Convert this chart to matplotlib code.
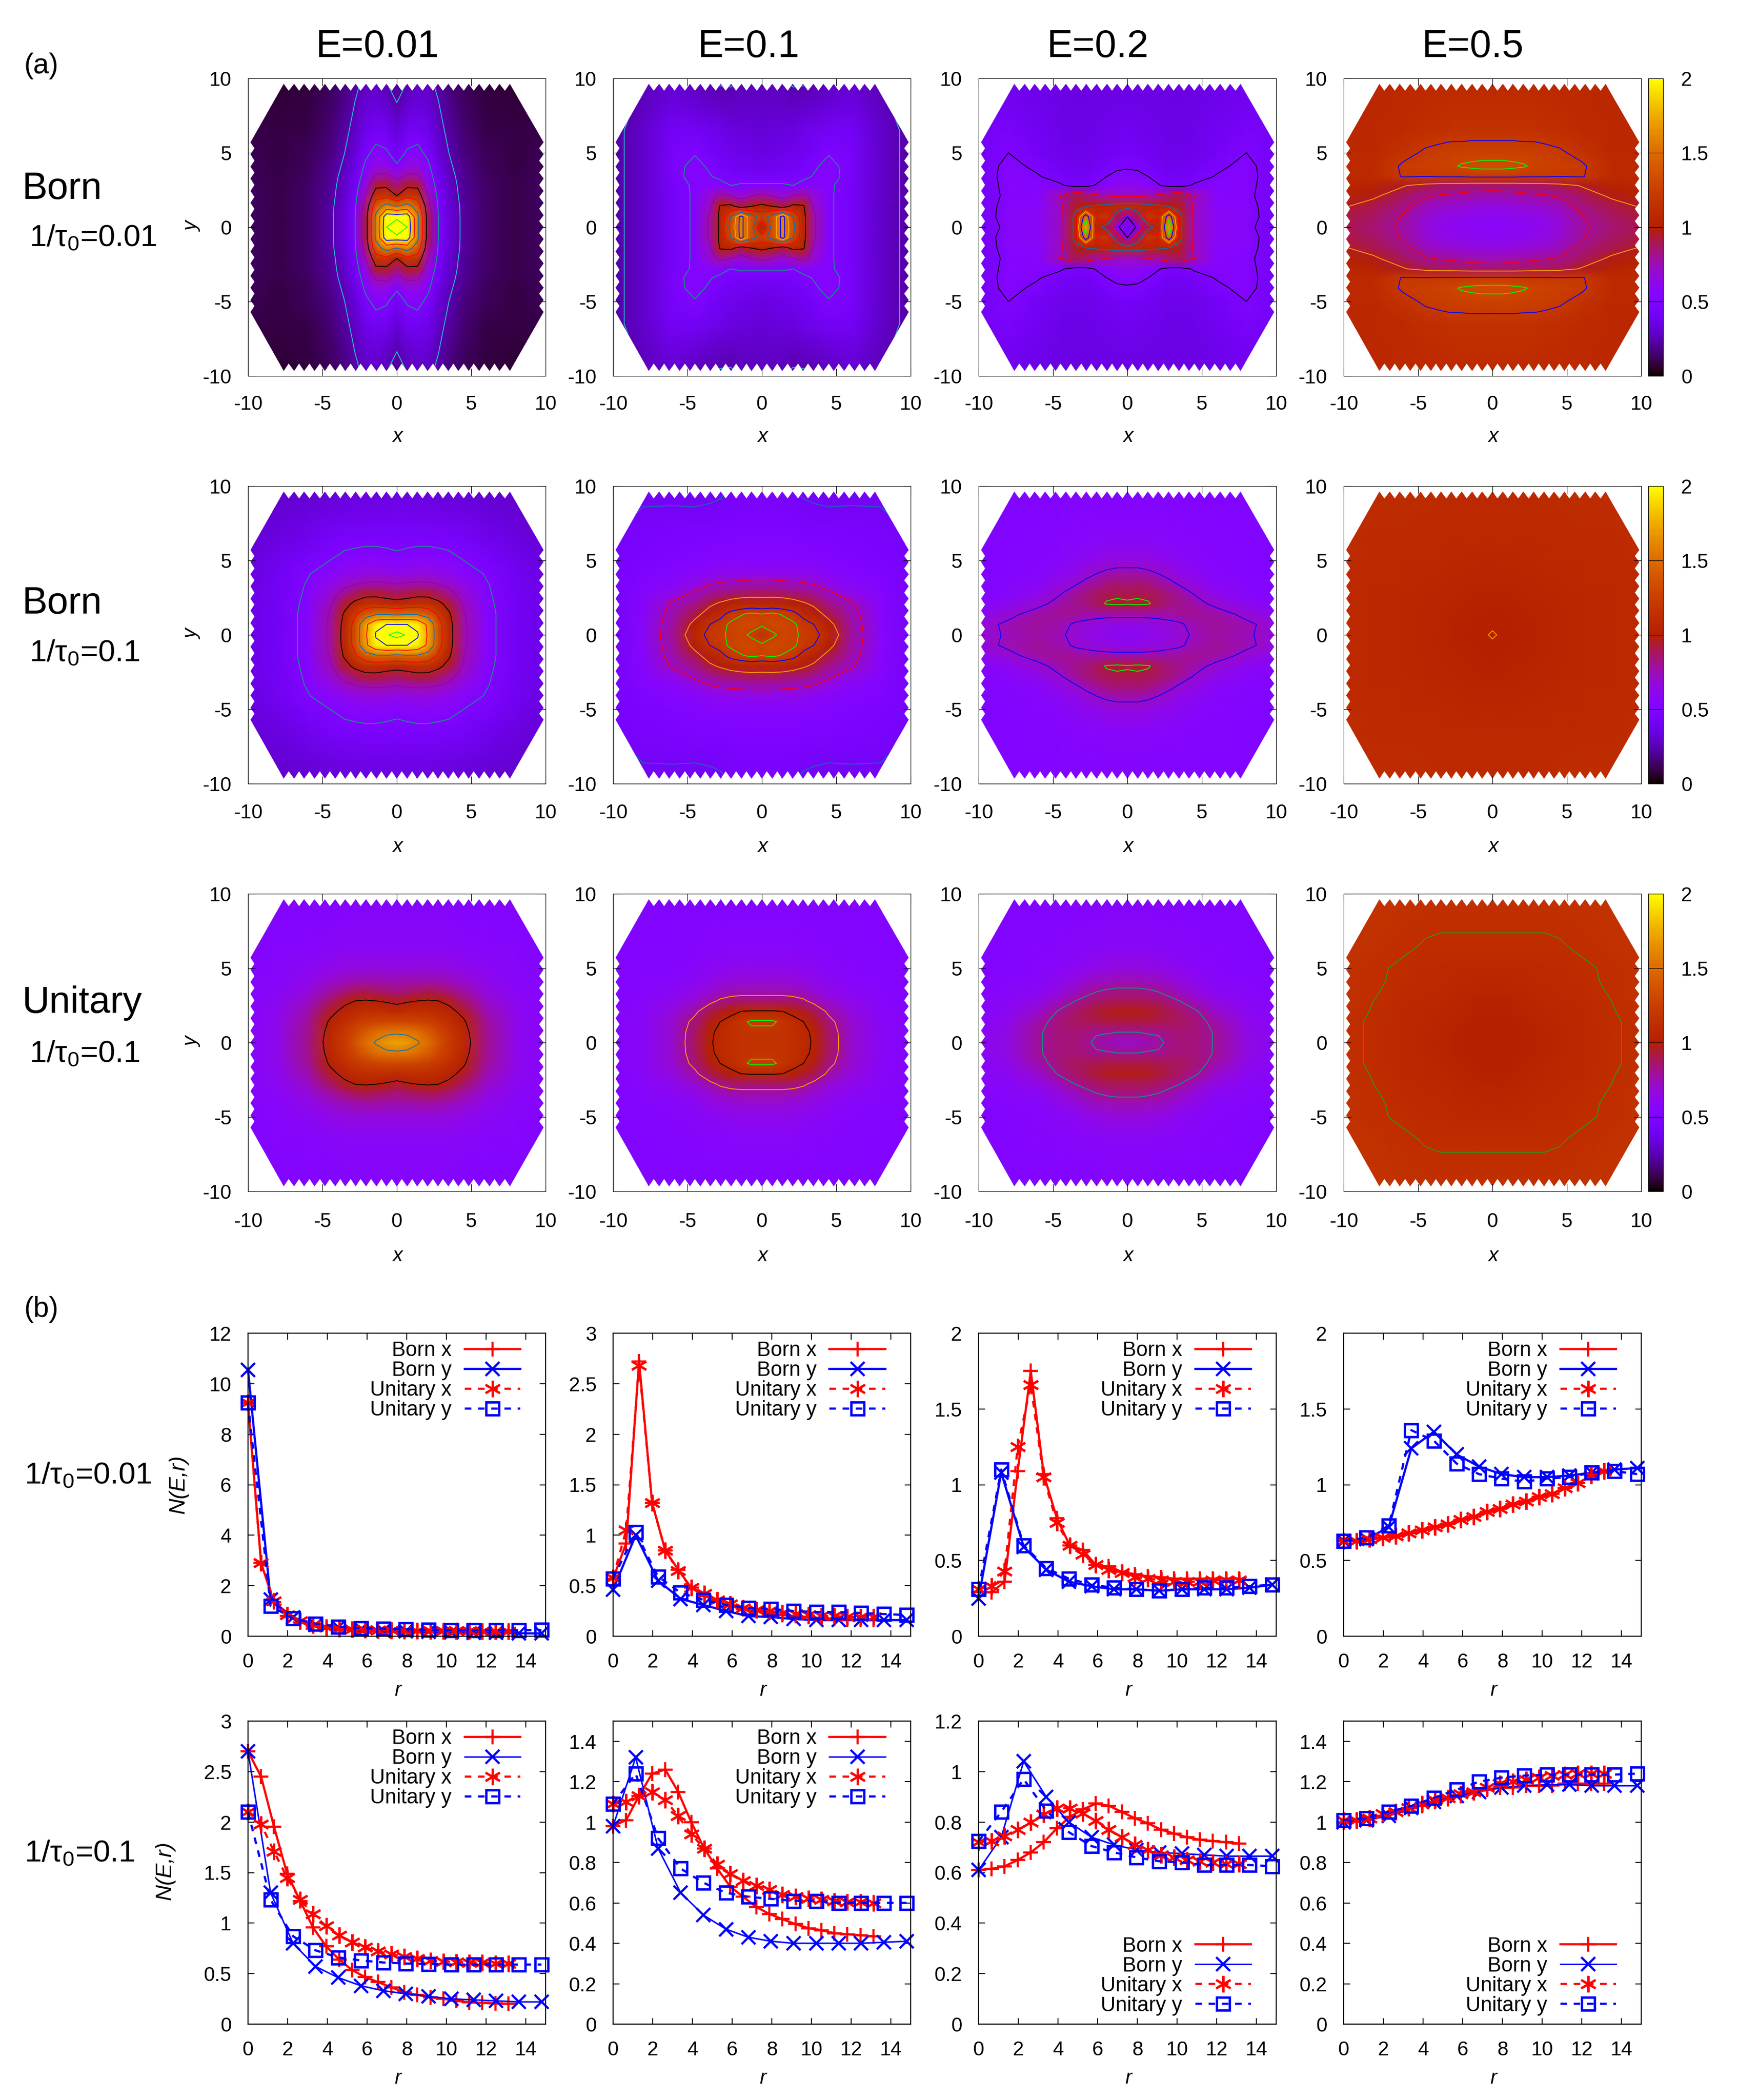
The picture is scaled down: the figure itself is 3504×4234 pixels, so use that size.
import numpy as np
import matplotlib
matplotlib.use("Agg")
import matplotlib.pyplot as plt
from matplotlib.cm import ScalarMappable
from matplotlib.colors import Normalize
from matplotlib.patches import PathPatch
from matplotlib.path import Path
from matplotlib.ticker import FormatStrFormatter

plt.rcParams['font.family'] = ['Liberation Sans', 'DejaVu Sans']
plt.rcParams['mathtext.fontset'] = 'custom'
plt.rcParams['mathtext.rm'] = 'Liberation Sans'
plt.rcParams['mathtext.it'] = 'Liberation Sans:italic'
plt.rcParams['axes.unicode_minus'] = False

W, H = 3504, 4234

# ---- N(x,y) maps, one quadrant each: rows are map_y, columns are map_x ----
map_x = [0, 0.7, 1.4, 2.1, 2.8, 3.5, 4.5, 6, 8, 10]
map_y = [0, 0.7, 1.4, 2.1, 2.8, 3.4, 4.1, 5, 6.5, 10]

born001_e001 = [
    [2.35, 2.20, 1.55, 0.90, 0.50, 0.34, 0.22, 0.14, 0.10, 0.13],
    [2.15, 2.15, 1.55, 0.90, 0.50, 0.34, 0.22, 0.14, 0.10, 0.13],
    [1.50, 1.60, 1.40, 0.85, 0.48, 0.33, 0.22, 0.14, 0.10, 0.13],
    [1.00, 1.20, 1.15, 0.75, 0.45, 0.32, 0.21, 0.14, 0.10, 0.13],
    [0.85, 0.95, 0.95, 0.65, 0.42, 0.30, 0.21, 0.14, 0.10, 0.13],
    [0.70, 0.80, 0.78, 0.58, 0.40, 0.29, 0.20, 0.13, 0.10, 0.12],
    [0.52, 0.64, 0.65, 0.53, 0.36, 0.27, 0.19, 0.12, 0.09, 0.12],
    [0.42, 0.52, 0.55, 0.46, 0.33, 0.25, 0.17, 0.12, 0.09, 0.11],
    [0.33, 0.40, 0.42, 0.38, 0.29, 0.22, 0.15, 0.10, 0.09, 0.10],
    [0.18, 0.24, 0.28, 0.27, 0.22, 0.16, 0.11, 0.08, 0.07, 0.08],
]
born001_e01 = [
    [1.00, 1.35, 1.60, 1.35, 1.05, 0.78, 0.52, 0.43, 0.30, 0.22],
    [1.25, 1.35, 1.60, 1.30, 1.05, 0.78, 0.52, 0.43, 0.30, 0.22],
    [1.05, 1.00, 0.92, 1.05, 1.02, 0.72, 0.52, 0.43, 0.30, 0.22],
    [0.80, 0.75, 0.68, 0.75, 0.80, 0.68, 0.52, 0.43, 0.30, 0.22],
    [0.52, 0.52, 0.52, 0.50, 0.55, 0.55, 0.52, 0.44, 0.30, 0.22],
    [0.43, 0.43, 0.43, 0.45, 0.47, 0.51, 0.55, 0.45, 0.30, 0.22],
    [0.38, 0.39, 0.40, 0.42, 0.44, 0.48, 0.54, 0.45, 0.30, 0.22],
    [0.35, 0.36, 0.37, 0.38, 0.40, 0.43, 0.49, 0.44, 0.30, 0.22],
    [0.32, 0.33, 0.34, 0.35, 0.37, 0.39, 0.42, 0.42, 0.30, 0.22],
    [0.27, 0.26, 0.25, 0.23, 0.23, 0.24, 0.26, 0.30, 0.25, 0.20],
]
born001_e02 = [
    [0.42, 0.52, 0.95, 1.05, 1.70, 1.05, 0.72, 0.58, 0.54, 0.40],
    [0.50, 0.90, 1.20, 1.12, 1.50, 1.05, 0.72, 0.58, 0.56, 0.42],
    [1.10, 1.10, 1.05, 1.02, 1.00, 0.95, 0.72, 0.56, 0.55, 0.42],
    [0.72, 0.72, 0.75, 0.78, 0.85, 0.90, 0.75, 0.54, 0.53, 0.42],
    [0.62, 0.60, 0.56, 0.51, 0.46, 0.45, 0.52, 0.55, 0.54, 0.42],
    [0.55, 0.54, 0.50, 0.45, 0.42, 0.42, 0.44, 0.51, 0.55, 0.42],
    [0.48, 0.47, 0.44, 0.42, 0.39, 0.39, 0.41, 0.47, 0.54, 0.42],
    [0.43, 0.42, 0.40, 0.39, 0.37, 0.37, 0.38, 0.42, 0.50, 0.42],
    [0.40, 0.39, 0.38, 0.37, 0.36, 0.36, 0.37, 0.40, 0.45, 0.42],
    [0.35, 0.35, 0.35, 0.35, 0.35, 0.35, 0.35, 0.36, 0.38, 0.38],
]
born001_e05 = [
    [0.58, 0.58, 0.59, 0.60, 0.61, 0.63, 0.67, 0.78, 0.85, 0.90],
    [0.60, 0.60, 0.61, 0.62, 0.63, 0.65, 0.69, 0.79, 0.87, 0.92],
    [0.66, 0.66, 0.67, 0.68, 0.69, 0.71, 0.74, 0.83, 0.90, 0.96],
    [0.74, 0.75, 0.76, 0.77, 0.78, 0.79, 0.81, 0.88, 0.97, 1.03],
    [0.86, 0.86, 0.86, 0.87, 0.88, 0.88, 0.90, 0.96, 1.03, 1.07],
    [1.22, 1.22, 1.22, 1.21, 1.21, 1.21, 1.20, 1.21, 1.10, 1.08],
    [1.33, 1.33, 1.32, 1.31, 1.28, 1.27, 1.25, 1.22, 1.10, 1.08],
    [1.26, 1.26, 1.26, 1.25, 1.25, 1.24, 1.22, 1.16, 1.09, 1.08],
    [1.15, 1.15, 1.15, 1.15, 1.15, 1.14, 1.13, 1.10, 1.08, 1.07],
    [1.08, 1.08, 1.08, 1.08, 1.08, 1.08, 1.08, 1.08, 1.07, 1.05],
]
born01_e001 = [
    [2.35, 2.22, 2.02, 1.72, 1.35, 1.08, 0.78, 0.54, 0.42, 0.36],
    [2.00, 2.00, 1.95, 1.70, 1.33, 1.07, 0.78, 0.54, 0.42, 0.36],
    [1.45, 1.48, 1.47, 1.40, 1.22, 1.03, 0.76, 0.54, 0.42, 0.36],
    [1.07, 1.10, 1.13, 1.12, 1.05, 0.93, 0.73, 0.53, 0.42, 0.36],
    [0.88, 0.90, 0.93, 0.93, 0.87, 0.80, 0.68, 0.52, 0.41, 0.36],
    [0.75, 0.77, 0.78, 0.77, 0.75, 0.71, 0.63, 0.51, 0.41, 0.35],
    [0.63, 0.65, 0.66, 0.66, 0.64, 0.61, 0.57, 0.49, 0.40, 0.35],
    [0.53, 0.55, 0.57, 0.57, 0.55, 0.54, 0.50, 0.45, 0.38, 0.34],
    [0.46, 0.46, 0.46, 0.46, 0.46, 0.45, 0.43, 0.39, 0.35, 0.32],
    [0.34, 0.33, 0.33, 0.33, 0.32, 0.32, 0.31, 0.30, 0.29, 0.28],
]
born01_e01 = [
    [1.15, 1.22, 1.29, 1.27, 1.23, 1.20, 1.07, 0.80, 0.56, 0.44],
    [1.27, 1.32, 1.30, 1.27, 1.21, 1.15, 1.00, 0.78, 0.56, 0.44],
    [1.25, 1.27, 1.24, 1.20, 1.10, 1.02, 0.90, 0.76, 0.55, 0.44],
    [1.05, 1.06, 1.05, 1.02, 0.97, 0.92, 0.82, 0.72, 0.55, 0.44],
    [0.88, 0.88, 0.87, 0.85, 0.83, 0.80, 0.72, 0.63, 0.53, 0.44],
    [0.75, 0.75, 0.74, 0.73, 0.72, 0.70, 0.64, 0.57, 0.52, 0.44],
    [0.63, 0.63, 0.62, 0.62, 0.61, 0.60, 0.57, 0.53, 0.50, 0.44],
    [0.55, 0.55, 0.55, 0.55, 0.55, 0.54, 0.52, 0.50, 0.48, 0.44],
    [0.50, 0.50, 0.50, 0.50, 0.49, 0.49, 0.49, 0.48, 0.46, 0.43],
    [0.45, 0.45, 0.44, 0.43, 0.41, 0.40, 0.39, 0.40, 0.41, 0.40],
]
born01_e02 = [
    [0.60, 0.60, 0.62, 0.64, 0.66, 0.68, 0.74, 0.78, 0.74, 0.66],
    [0.64, 0.64, 0.65, 0.66, 0.68, 0.70, 0.76, 0.79, 0.75, 0.66],
    [0.76, 0.76, 0.76, 0.77, 0.78, 0.79, 0.80, 0.78, 0.68, 0.60],
    [0.93, 0.94, 0.93, 0.88, 0.84, 0.82, 0.77, 0.68, 0.60, 0.55],
    [0.90, 0.90, 0.89, 0.87, 0.83, 0.79, 0.71, 0.62, 0.56, 0.52],
    [0.85, 0.86, 0.84, 0.80, 0.76, 0.71, 0.65, 0.58, 0.54, 0.52],
    [0.77, 0.77, 0.75, 0.72, 0.68, 0.64, 0.60, 0.55, 0.53, 0.50],
    [0.66, 0.66, 0.65, 0.63, 0.61, 0.59, 0.56, 0.54, 0.52, 0.50],
    [0.57, 0.57, 0.57, 0.56, 0.56, 0.55, 0.54, 0.53, 0.52, 0.50],
    [0.52, 0.52, 0.52, 0.52, 0.52, 0.52, 0.51, 0.50, 0.50, 0.49],
]
born01_e05 = [
    [1.000, 1.010, 1.015, 1.02, 1.03, 1.04, 1.05, 1.07, 1.08, 1.09],
    [1.010, 1.012, 1.018, 1.02, 1.03, 1.04, 1.05, 1.07, 1.08, 1.09],
    [1.015, 1.018, 1.020, 1.03, 1.03, 1.04, 1.05, 1.07, 1.08, 1.09],
    [1.020, 1.020, 1.030, 1.03, 1.04, 1.05, 1.06, 1.07, 1.08, 1.09],
    [1.030, 1.030, 1.030, 1.04, 1.05, 1.05, 1.06, 1.07, 1.08, 1.09],
    [1.040, 1.040, 1.040, 1.05, 1.05, 1.06, 1.07, 1.08, 1.09, 1.10],
    [1.050, 1.050, 1.050, 1.06, 1.06, 1.07, 1.07, 1.08, 1.09, 1.10],
    [1.060, 1.060, 1.060, 1.07, 1.07, 1.08, 1.08, 1.09, 1.10, 1.10],
    [1.080, 1.080, 1.080, 1.08, 1.08, 1.09, 1.09, 1.10, 1.10, 1.11],
    [1.100, 1.100, 1.100, 1.10, 1.10, 1.10, 1.11, 1.11, 1.11, 1.11],
]
unitary_e001 = [
    [1.72, 1.68, 1.60, 1.50, 1.36, 1.22, 1.08, 0.82, 0.62, 0.55],
    [1.55, 1.54, 1.50, 1.42, 1.30, 1.20, 1.06, 0.81, 0.62, 0.55],
    [1.30, 1.30, 1.28, 1.25, 1.20, 1.13, 1.02, 0.79, 0.62, 0.55],
    [1.10, 1.12, 1.12, 1.12, 1.10, 1.05, 0.95, 0.75, 0.61, 0.55],
    [0.95, 0.98, 1.00, 1.01, 1.00, 0.96, 0.86, 0.71, 0.60, 0.55],
    [0.84, 0.86, 0.88, 0.90, 0.89, 0.85, 0.78, 0.67, 0.58, 0.54],
    [0.75, 0.76, 0.77, 0.77, 0.76, 0.74, 0.70, 0.63, 0.57, 0.54],
    [0.66, 0.66, 0.66, 0.66, 0.66, 0.65, 0.63, 0.59, 0.56, 0.53],
    [0.58, 0.58, 0.58, 0.58, 0.58, 0.58, 0.57, 0.55, 0.54, 0.52],
    [0.53, 0.53, 0.53, 0.53, 0.53, 0.53, 0.52, 0.52, 0.52, 0.51],
]
unitary_e01 = [
    [1.15, 1.15, 1.15, 1.13, 1.10, 1.03, 0.88, 0.70, 0.58, 0.53],
    [1.17, 1.17, 1.16, 1.13, 1.09, 1.02, 0.87, 0.70, 0.58, 0.53],
    [1.22, 1.22, 1.17, 1.11, 1.05, 0.97, 0.84, 0.69, 0.58, 0.53],
    [1.06, 1.06, 1.05, 1.00, 0.96, 0.90, 0.77, 0.66, 0.57, 0.53],
    [0.86, 0.86, 0.86, 0.85, 0.82, 0.76, 0.68, 0.62, 0.56, 0.53],
    [0.76, 0.76, 0.76, 0.75, 0.73, 0.69, 0.64, 0.59, 0.55, 0.52],
    [0.68, 0.68, 0.68, 0.67, 0.66, 0.63, 0.60, 0.56, 0.54, 0.52],
    [0.62, 0.62, 0.62, 0.61, 0.60, 0.59, 0.57, 0.54, 0.53, 0.52],
    [0.56, 0.56, 0.56, 0.56, 0.55, 0.55, 0.54, 0.53, 0.52, 0.51],
    [0.52, 0.52, 0.52, 0.52, 0.52, 0.52, 0.51, 0.51, 0.51, 0.50],
]
unitary_e02 = [
    [0.72, 0.73, 0.75, 0.78, 0.82, 0.84, 0.84, 0.79, 0.65, 0.58],
    [0.80, 0.80, 0.81, 0.81, 0.84, 0.85, 0.84, 0.79, 0.65, 0.58],
    [0.92, 0.92, 0.92, 0.90, 0.89, 0.88, 0.85, 0.76, 0.63, 0.57],
    [0.97, 0.97, 0.96, 0.93, 0.90, 0.87, 0.82, 0.70, 0.60, 0.56],
    [0.89, 0.89, 0.88, 0.86, 0.83, 0.80, 0.73, 0.64, 0.58, 0.55],
    [0.83, 0.83, 0.82, 0.80, 0.77, 0.73, 0.67, 0.60, 0.56, 0.54],
    [0.75, 0.75, 0.74, 0.73, 0.70, 0.67, 0.62, 0.57, 0.55, 0.53],
    [0.66, 0.66, 0.65, 0.64, 0.62, 0.60, 0.58, 0.55, 0.53, 0.52],
    [0.58, 0.58, 0.58, 0.57, 0.57, 0.56, 0.55, 0.54, 0.52, 0.51],
    [0.53, 0.53, 0.53, 0.53, 0.53, 0.52, 0.52, 0.52, 0.51, 0.50],
]
unitary_e05 = [
    [1.00, 1.00, 1.01, 1.02, 1.03, 1.04, 1.06, 1.08, 1.11, 1.14],
    [1.00, 1.00, 1.01, 1.02, 1.03, 1.04, 1.06, 1.08, 1.11, 1.14],
    [1.01, 1.01, 1.02, 1.03, 1.04, 1.05, 1.07, 1.09, 1.11, 1.14],
    [1.02, 1.02, 1.03, 1.04, 1.05, 1.06, 1.07, 1.09, 1.115, 1.15],
    [1.03, 1.03, 1.04, 1.05, 1.06, 1.07, 1.08, 1.10, 1.12, 1.15],
    [1.05, 1.05, 1.05, 1.06, 1.07, 1.08, 1.09, 1.10, 1.125, 1.16],
    [1.06, 1.06, 1.07, 1.07, 1.08, 1.09, 1.10, 1.105, 1.13, 1.16],
    [1.08, 1.08, 1.08, 1.09, 1.09, 1.10, 1.10, 1.11, 1.13, 1.16],
    [1.11, 1.11, 1.11, 1.11, 1.11, 1.11, 1.115, 1.13, 1.15, 1.17],
    [1.15, 1.15, 1.15, 1.15, 1.15, 1.15, 1.15, 1.16, 1.17, 1.17],
]

maps = [
    [born001_e001, born001_e01, born001_e02, born001_e05],
    [born01_e001, born01_e01, born01_e02, born01_e05],
    [unitary_e001, unitary_e01, unitary_e02, unitary_e05],
]

# contour levels and their line colours, panel by panel
CYAN, TEAL, PURPLE, BLUE2 = '#20c8c8', '#109a80', '#9400b8', '#1070b0'
contours = [
    [([0.25, 0.5, 0.75, 1.0, 1.25, 1.5, 1.75, 2.0, 2.2],
      [CYAN, TEAL, PURPLE, 'k', 'r', BLUE2, 'r', 'b', 'lime']),
     ([0.25, 0.5, 0.75, 1.0, 1.15, 1.3, 1.45, 1.55],
      [CYAN, TEAL, PURPLE, 'k', 'r', BLUE2, 'orange', 'b']),
     ([0.5, 0.75, 1.0, 1.1, 1.25, 1.4, 1.55],
      ['k', 'r', BLUE2, 'r', 'orange', 'b', 'lime']),
     ([0.8, 0.95, 1.2, 1.3], ['r', 'orange', 'b', 'lime'])],
    [([0.5, 0.75, 1.0, 1.25, 1.5, 1.75, 2.0, 2.25],
      [TEAL, PURPLE, 'k', 'r', BLUE2, 'r', 'b', 'lime']),
     ([0.43, 0.7, 0.95, 1.15, 1.25], [BLUE2, 'r', 'orange', 'b', 'lime']),
     ([0.72, 0.92], ['b', 'lime']),
     ([1.004], ['orange'])],
    [([1.0, 1.58], ['k', BLUE2]),
     ([0.8, 1.05, 1.2], ['orange', 'k', 'lime']),
     ([0.8], [TEAL]),
     ([1.12], ['#20a020'])],
]

# ---- N(E,r) cuts, first index is tau row, second is energy ----
r_along_x = [0, 0.66, 1.31, 1.97, 2.63, 3.28, 3.94, 4.59, 5.25, 5.91, 6.56,
             7.22, 7.88, 8.53, 9.19, 9.84, 10.5, 11.16, 11.81, 12.47, 13.13]
r_along_y = [0, 1.14, 2.27, 3.41, 4.55, 5.69, 6.82, 7.96, 9.1, 10.24, 11.37,
             12.51, 13.65, 14.79]

born_x = [
    [[9.25, 2.9, 1.35, 0.8, 0.55, 0.4, 0.35, 0.3, 0.25, 0.22, 0.2, 0.18, 0.17,
      0.17, 0.16, 0.16, 0.15, 0.15, 0.15, 0.15, 0.15],
     [0.57, 0.92, 2.72, 1.32, 0.85, 0.66, 0.48, 0.4, 0.35, 0.3, 0.27, 0.25,
      0.23, 0.21, 0.2, 0.19, 0.18, 0.17, 0.165, 0.16, 0.16],
     [0.29, 0.29, 0.36, 1.09, 1.75, 1.07, 0.78, 0.6, 0.57, 0.47, 0.46, 0.425,
      0.41, 0.395, 0.39, 0.38, 0.38, 0.38, 0.38, 0.38, 0.38],
     [0.63, 0.63, 0.64, 0.65, 0.66, 0.68, 0.7, 0.72, 0.74, 0.77, 0.79, 0.82,
      0.84, 0.87, 0.89, 0.92, 0.94, 0.98, 1.01, 1.06, 1.09]],
    [[2.7, 2.45, 1.955, 1.49, 1.22, 0.955, 0.77, 0.64, 0.535, 0.465, 0.415,
      0.365, 0.315, 0.29, 0.265, 0.25, 0.23, 0.215, 0.21, 0.205, 0.2],
     [0.98, 1.01, 1.13, 1.24, 1.26, 1.15, 1.0, 0.87, 0.77, 0.68, 0.63, 0.58,
      0.545, 0.52, 0.495, 0.475, 0.465, 0.45, 0.445, 0.44, 0.435],
     [0.61, 0.615, 0.625, 0.65, 0.68, 0.72, 0.775, 0.82, 0.85, 0.873, 0.865,
      0.84, 0.815, 0.795, 0.77, 0.755, 0.74, 0.73, 0.725, 0.72, 0.715],
     [1.0, 1.01, 1.02, 1.03, 1.05, 1.07, 1.08, 1.1, 1.12, 1.13, 1.15, 1.16,
      1.17, 1.17, 1.18, 1.18, 1.18, 1.19, 1.19, 1.19, 1.19]],
]
born_y = [
    [[10.55, 1.45, 0.75, 0.45, 0.35, 0.28, 0.22, 0.2, 0.18, 0.15, 0.14, 0.13,
      0.12, 0.11],
     [0.46, 1.0, 0.55, 0.37, 0.31, 0.25, 0.2, 0.19, 0.17, 0.16, 0.16, 0.16,
      0.16, 0.16],
     [0.25, 1.08, 0.59, 0.44, 0.36, 0.33, 0.31, 0.31, 0.3, 0.31, 0.31, 0.31,
      0.32, 0.34],
     [0.63, 0.64, 0.72, 1.24, 1.35, 1.2, 1.12, 1.07, 1.05, 1.05, 1.06, 1.08,
      1.1, 1.11]],
    [[2.7, 1.3, 0.8, 0.57, 0.46, 0.38, 0.33, 0.3, 0.275, 0.25, 0.24, 0.23,
      0.22, 0.22],
     [0.98, 1.32, 0.87, 0.65, 0.54, 0.47, 0.43, 0.41, 0.4, 0.4, 0.4, 0.4,
      0.405, 0.41],
     [0.61, 0.74, 1.04, 0.9, 0.8, 0.74, 0.71, 0.69, 0.68, 0.675, 0.67, 0.665,
      0.665, 0.665],
     [1.0, 1.01, 1.03, 1.07, 1.1, 1.13, 1.15, 1.17, 1.18, 1.185, 1.185, 1.18,
      1.18, 1.18]],
]
unitary_x = [
    [[9.25, 2.9, 1.4, 0.85, 0.6, 0.45, 0.35, 0.3, 0.27, 0.25, 0.24, 0.23, 0.22,
      0.22, 0.22, 0.21, 0.21, 0.21, 0.2, 0.2, 0.2],
     [0.58, 1.05, 2.68, 1.32, 0.85, 0.65, 0.48, 0.42, 0.36, 0.32, 0.28, 0.26,
      0.25, 0.23, 0.22, 0.21, 0.2, 0.2, 0.19, 0.19, 0.19],
     [0.31, 0.33, 0.43, 1.25, 1.66, 1.05, 0.75, 0.6, 0.54, 0.47, 0.44, 0.42,
      0.39, 0.38, 0.37, 0.36, 0.36, 0.36, 0.37, 0.37, 0.37],
     [0.63, 0.63, 0.64, 0.65, 0.66, 0.68, 0.7, 0.72, 0.74, 0.77, 0.79, 0.82,
      0.84, 0.87, 0.89, 0.92, 0.94, 0.98, 1.01, 1.06, 1.09]],
    [[2.1, 1.98, 1.71, 1.45, 1.23, 1.09, 0.97, 0.88, 0.81, 0.76, 0.72, 0.69,
      0.67, 0.65, 0.63, 0.62, 0.615, 0.61, 0.61, 0.6, 0.6],
     [1.09, 1.1, 1.13, 1.15, 1.11, 1.03, 0.94, 0.87, 0.79, 0.745, 0.71, 0.685,
      0.665, 0.64, 0.63, 0.62, 0.615, 0.61, 0.605, 0.605, 0.6],
     [0.72, 0.725, 0.745, 0.77, 0.8, 0.83, 0.855, 0.855, 0.835, 0.805, 0.77,
      0.74, 0.71, 0.69, 0.67, 0.66, 0.65, 0.645, 0.64, 0.635, 0.635],
     [1.01, 1.01, 1.02, 1.04, 1.05, 1.07, 1.09, 1.11, 1.12, 1.14, 1.15, 1.17,
      1.19, 1.2, 1.21, 1.22, 1.23, 1.235, 1.24, 1.24, 1.24]],
]
unitary_y = [
    [[9.25, 1.2, 0.7, 0.5, 0.38, 0.32, 0.3, 0.28, 0.25, 0.24, 0.23, 0.24, 0.24,
      0.25],
     [0.57, 1.03, 0.59, 0.43, 0.36, 0.31, 0.28, 0.27, 0.25, 0.24, 0.24, 0.23,
      0.22, 0.21],
     [0.31, 1.1, 0.6, 0.45, 0.38, 0.34, 0.32, 0.31, 0.3, 0.31, 0.32, 0.32,
      0.33, 0.34],
     [0.63, 0.65, 0.73, 1.36, 1.29, 1.14, 1.07, 1.04, 1.02, 1.04, 1.05, 1.08,
      1.09, 1.07]],
    [[2.1, 1.23, 0.87, 0.73, 0.66, 0.63, 0.61, 0.6, 0.595, 0.59, 0.59, 0.59,
      0.59, 0.59],
     [1.09, 1.24, 0.92, 0.77, 0.7, 0.65, 0.63, 0.62, 0.61, 0.61, 0.6, 0.6,
      0.6, 0.6],
     [0.725, 0.84, 0.97, 0.845, 0.76, 0.705, 0.68, 0.66, 0.645, 0.64, 0.63,
      0.63, 0.63, 0.625],
     [1.01, 1.02, 1.05, 1.08, 1.12, 1.16, 1.2, 1.22, 1.23, 1.235, 1.235, 1.235,
      1.235, 1.24]],
]
y_limits = [[12, 3, 2, 2], [3, 1.5, 1.2, 1.5]]
y_steps = [[2, 0.5, 0.5, 0.5], [0.5, 0.2, 0.2, 0.2]]

energy_titles = ['E=0.01', 'E=0.1', 'E=0.2', 'E=0.5']

# ---- Layout, in pixels of the final picture ----
col_left = [500, 1236, 1973, 2709]
map_top = [158, 980, 1802]
map_h = 600
cut_top = [2688, 3470]
cut_h = 611
panel_w = 600


def add_axes_px(fig, left, top, width, height):
    return fig.add_axes([left / W, 1 - (top + height) / H, width / W, height / H])


def label_px(fig, x, y, text, **kw):
    kw.setdefault('va', 'center')
    fig.text(x / W, 1 - y / H, text, **kw)


def zone_outline():
    # hexagon with the saw-tooth edges the k-mesh leaves behind
    top_x = np.linspace(-7.6, 7.6, 45)
    top_y = np.where(np.arange(45) % 2 == 0, 9.65, 9.17)
    side_y = np.linspace(5.7, -5.7, 29)
    side_x = np.where(np.arange(29) % 2 == 0, 9.85, 9.58)
    xs = np.r_[top_x, side_x, top_x[::-1], -side_x]
    ys = np.r_[top_y, side_y, -top_y[::-1], side_y[::-1]]
    return Path(np.c_[np.r_[xs, xs[0]], np.r_[ys, ys[0]]], closed=True)


def mirror(table):
    z = np.array(table, dtype=float)
    z = np.hstack([z[:, :0:-1], z])
    return np.vstack([z[:0:-1], z])


def draw_map(ax, table, levels, colors, x_pad):
    q_x = np.array(map_x)
    q_y = np.array(map_y)
    x = np.r_[-q_x[:0:-1], q_x]
    y = np.r_[-q_y[:0:-1], q_y]
    z = mirror(table)
    clip = PathPatch(zone_outline(), transform=ax.transData)

    mesh = ax.pcolormesh(x, y, z, shading='gouraud', cmap='gnuplot', vmin=0, vmax=2)
    mesh.set_clip_path(clip)
    lines = ax.contour(x, y, z, levels=levels, colors=colors, linewidths=1.2)
    lines.set_clip_path(clip)

    ax.set_xlim(-10, 10)
    ax.set_ylim(-10, 10)
    ax.set_xticks([-10, -5, 0, 5, 10])
    ax.set_yticks([-10, -5, 0, 5, 10])
    ax.tick_params(direction='in', top=True, right=True, length=11, width=0.8,
                   labelsize=29)
    ax.tick_params(axis='x', pad=x_pad)
    ax.tick_params(axis='y', pad=24)
    for spine in ax.spines.values():
        spine.set_linewidth(0.8)


def draw_cut(ax, row, col, legend_low):
    lw_by = 2.2 if row == 1 else 3.2
    ax.plot(r_along_x, born_x[row][col], color='r', lw=3.2, marker='+', ms=22,
            mew=3.2, clip_on=False, label='Born x')
    ax.plot(r_along_y, born_y[row][col], color='b', lw=lw_by, marker='x', ms=20,
            mew=3.2, clip_on=False, label='Born y')
    ax.plot(r_along_x, unitary_x[row][col], color='r', lw=3.2, ls=(0, (3, 3)),
            marker=(6, 2, 0), ms=24, mew=3.2, clip_on=False, label='Unitary x')
    ax.plot(r_along_y, unitary_y[row][col], color='b', lw=3.2, ls=(0, (3, 3)),
            marker='s', ms=19, mew=3.4, mfc='none', clip_on=False, label='Unitary y')

    ax.set_xlim(0, 15)
    ax.set_ylim(0, y_limits[row][col])
    ax.set_xticks(np.arange(0, 15, 2))
    ax.set_yticks(np.arange(0, y_limits[row][col] + 1e-6, y_steps[row][col]))
    ax.yaxis.set_major_formatter(FormatStrFormatter('%g'))
    ax.tick_params(direction='in', top=True, right=True, length=9, width=1.4,
                   labelsize=29)
    ax.tick_params(axis='x', pad=24)
    ax.tick_params(axis='y', pad=24)
    for spine in ax.spines.values():
        spine.set_linewidth(1.6)

    anchor_y = 0.29 if legend_low else 0.975
    ax.legend(loc='upper right', bbox_to_anchor=(0.915, anchor_y), frameon=False,
              markerfirst=False, fontsize=30, borderpad=0, borderaxespad=0,
              handlelength=2.7, handletextpad=0.62, labelspacing=0.0, numpoints=1)


def main():
    fig = plt.figure(figsize=(W / 100, H / 100), dpi=100)

    # ---- (a) maps ----
    x_pads = [27, 29, 30]
    x_label_gap = [122, 127, 130]
    for row, top in enumerate(map_top):
        for col, left in enumerate(col_left):
            ax = add_axes_px(fig, left, top, panel_w, map_h)
            levels, colors = contours[row][col]
            draw_map(ax, maps[row][col], levels, colors, x_pads[row])
            label_px(fig, left + 302, top + map_h + x_label_gap[row], 'x', fontsize=29,
                     style='italic', ha='center')
            if col == 0:
                label_px(fig, 387, top + 299, 'y', fontsize=29, style='italic',
                         ha='center', rotation=90)
        cax = add_axes_px(fig, 3323, top, 30, map_h)
        cbar = fig.colorbar(ScalarMappable(Normalize(0, 2), 'gnuplot'), cax=cax)
        cbar.set_ticks([0, 0.5, 1, 1.5, 2], labels=['0', '0.5', '1', '1.5', '2'])
        cbar.ax.tick_params(direction='in', left=True, right=True, length=11,
                            width=0.8, labelsize=29, pad=26)
        cbar.outline.set_linewidth(0.8)

    # ---- (b) cuts ----
    for row, top in enumerate(cut_top):
        for col, left in enumerate(col_left):
            ax = add_axes_px(fig, left, top, panel_w, cut_h)
            draw_cut(ax, row, col, legend_low=(row == 1 and col >= 2))
            label_px(fig, left + 302, top + cut_h + 109, 'r', fontsize=29,
                     style='italic', ha='center')
    label_px(fig, 360, 2993, 'N(E,r)', fontsize=32, style='italic', ha='center', rotation=90)
    label_px(fig, 333, 3772, 'N(E,r)', fontsize=32, style='italic', ha='center', rotation=90)

    # ---- Titles and side labels ----
    for x, title in zip([761, 1509, 2213, 2969], energy_titles):
        label_px(fig, x, 94, title, fontsize=56, ha='center')
    label_px(fig, 48, 133, '(a)', fontsize=41)
    label_px(fig, 48, 2640, '(b)', fontsize=41)
    tau_small = r'1/τ$_{\mathregular{0}}$=0.01'
    tau_big = r'1/τ$_{\mathregular{0}}$=0.1'
    label_px(fig, 45, 381, 'Born', fontsize=55)
    label_px(fig, 59, 480, tau_small, fontsize=44.5)
    label_px(fig, 45, 1217, 'Born', fontsize=55)
    label_px(fig, 59, 1317, tau_big, fontsize=44.5)
    label_px(fig, 44, 2023, 'Unitary', fontsize=55)
    label_px(fig, 59, 2125, tau_big, fontsize=44.5)
    label_px(fig, 49, 2975, tau_small, fontsize=44.5)
    label_px(fig, 49, 3737, tau_big, fontsize=44.5)

    fig.savefig('out.png', dpi=100)


if __name__ == "__main__":
    main()
